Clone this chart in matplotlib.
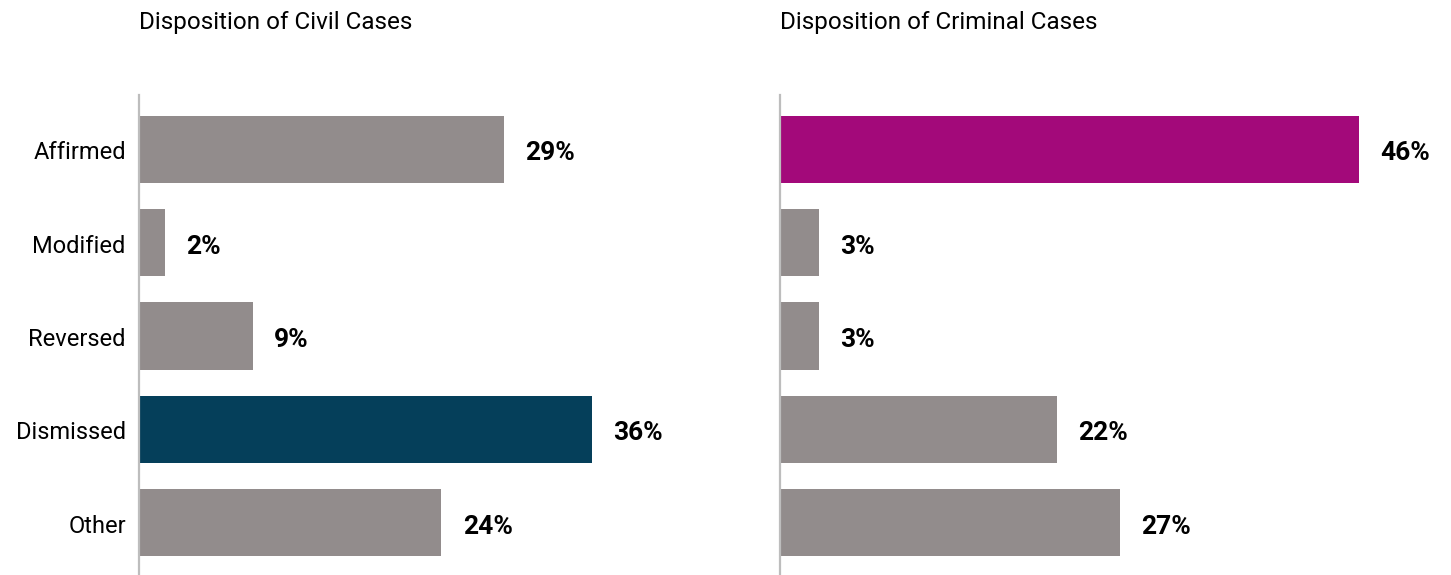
import matplotlib
matplotlib.use("Agg")
import matplotlib.pyplot as plt

plt.rcParams['font.family'] = ['Roboto', 'DejaVu Sans']

categories = ["Affirmed", "Modified", "Reversed", "Dismissed", "Other"]
civil_values = [29, 2, 9, 36, 24]
criminal_values = [46, 3, 3, 22, 27]
civil_title = "Disposition of Civil Cases"
criminal_title = "Disposition of Criminal Cases"

grey = "#928C8C"
civil_colors = [grey, grey, grey, "#053F5A", grey]
criminal_colors = ["#A3097A", grey, grey, grey, grey]

fig = plt.figure(figsize=(14.51, 5.75), dpi=100)

W, H = 1451, 575
ax_w = 628 / W
ax_h = (575 - 95) / H
ax1 = fig.add_axes([139 / W, 0, ax_w, ax_h])
ax2 = fig.add_axes([780 / W, 0, ax_w, ax_h])

panels = [
    (ax1, civil_values, civil_colors, civil_title, True),
    (ax2, criminal_values, criminal_colors, criminal_title, False),
]

for ax, vals, cols, title, show_labels in panels:
    y = range(len(categories))
    ax.barh(y, vals, height=0.72, color=cols, left=0.08)
    for yi, v in zip(y, vals):
        ax.annotate(f"{v}%", xy=(v, yi), xytext=(16, -3), textcoords="offset points",
                    va="center", ha="left", fontsize=19, fontweight="bold",
                    color="black")
        if show_labels:
            ax.annotate(categories[yi], xy=(0, yi), xytext=(-9.5, -2.5),
                        textcoords="offset points", va="center", ha="right",
                        fontsize=17, color="black", annotation_clip=False)
    ax.set_xlim(0, 50)
    ax.set_ylim(4.56, -0.58)
    ax.set_xticks([])
    ax.set_yticks([])
    for s in ["top", "right", "bottom"]:
        ax.spines[s].set_visible(False)
    ax.spines["left"].set_color("#BDBDBD")
    ax.spines["left"].set_linewidth(1.6)
    fig.text(ax.get_position().x0, 1 - 23 / H, title, fontsize=17.5,
             va="center", ha="left")

fig.savefig("out.png", dpi=100)
